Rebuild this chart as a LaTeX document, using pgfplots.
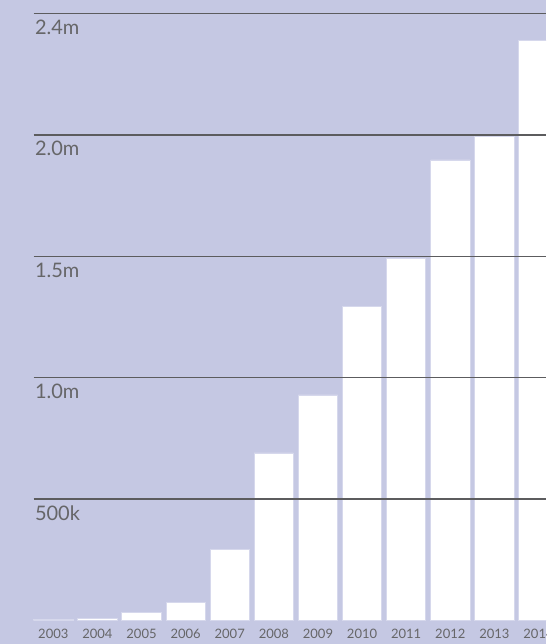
\documentclass[border=0pt]{standalone}
\usepackage{pgfplots}
\pgfplotsset{compat=1.18}
\usepackage{fontspec}
\setmainfont{Lato}
\definecolor{bg}{HTML}{C5C8E3}
\definecolor{bglight}{HTML}{D6D8EC}
\definecolor{gridc}{HTML}{5C5C5E}
\definecolor{txt}{HTML}{666668}
\begin{document}
\begin{tikzpicture}[x=1pt,y=1pt]
\useasboundingbox (0,0) rectangle (546,644);
\clip (0,0) rectangle (546,644);
\fill[bg] (0,0) rectangle (546,644);
\begin{axis}[
  at={(33.5pt,23.5pt)}, anchor=south west,
  scale only axis, width=512.5pt, height=620.5pt,
  xmin=-0.449, xmax=11.17, ymin=0, ymax=2556000,
  ybar, bar width=0.89,
  axis line style={draw=none},
  major tick length=0pt,
  axis on top,
  ymajorgrids, grid style={gridc, line width=1.3pt},
  xtick={0,...,11},
  xticklabels={2003,2004,2005,2006,2007,2008,2009,2010,2011,2012,2013,2014},
  xticklabel style={font=\fontsize{13}{13}\selectfont, text=txt, yshift=-5pt},
  ytick={500000,1000000,1500000,2000000,2500000},
  yticklabels={500k,1.0m,1.5m,2.0m,2.4m},
  scaled y ticks=false,
  yticklabel style={font=\fontsize{20}{20}\selectfont, text=txt, anchor=north west, xshift=-2pt, yshift=-3pt},
]
\addplot[fill=white, draw=bglight, line width=0.8pt] coordinates {
(0,6000) (1,8000) (2,32000) (3,76000) (4,294000) (5,690000) (6,929000)
(7,1295000) (8,1493000) (9,1897000) (10,1993000) (11,2391000)};
\end{axis}
\end{tikzpicture}
\end{document}
